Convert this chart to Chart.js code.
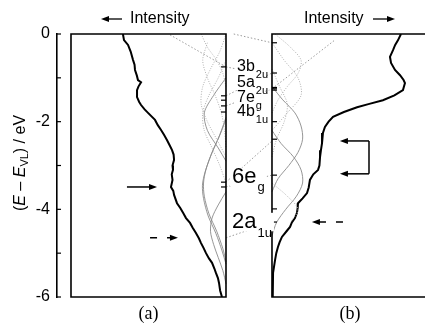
<!DOCTYPE html>
<html>
<head>
<meta charset="utf-8">
<script src="https://cdn.jsdelivr.net/npm/chart.js@4.4.1/dist/chart.umd.min.js"></script>
<style>
  html, body { margin: 0; padding: 0; background: #fff; }
  #wrap { width: 425px; height: 327px; }
</style>
</head>
<body>
<div id="wrap"><canvas id="chart"></canvas></div>
<script>
// spectrum (a): energy (eV) and intensity (grows to the left)
var energyA = [0, -0.14, -0.25, -0.4, -0.59, -0.7, -0.82, -0.95, -1.05, -1.1, -1.2, -1.28, -1.44, -1.55, -1.62, -1.72, -1.8, -1.96, -2.08, -2.19, -2.3, -2.42, -2.55, -2.65, -2.75, -2.87, -3.0, -3.1, -3.2, -3.33, -3.49, -3.58, -3.67, -3.86, -3.97, -4.08, -4.2, -4.31, -4.42, -4.54, -4.66, -4.77, -4.88, -5.0, -5.12, -5.22, -5.35, -5.45, -5.57, -5.68, -5.85, -6.0];
var intensityA = [0.665, 0.658, 0.632, 0.615, 0.6, 0.59, 0.587, 0.575, 0.568, 0.548, 0.565, 0.574, 0.574, 0.56, 0.548, 0.525, 0.503, 0.458, 0.44, 0.419, 0.4, 0.381, 0.362, 0.348, 0.338, 0.335, 0.345, 0.342, 0.35, 0.345, 0.355, 0.34, 0.335, 0.316, 0.295, 0.277, 0.258, 0.232, 0.215, 0.194, 0.175, 0.161, 0.145, 0.129, 0.11, 0.09, 0.075, 0.065, 0.052, 0.045, 0.038, 0.026];

// spectrum (b): energy (eV) and intensity (grows to the right)
var energyB = [0, -0.14, -0.25, -0.37, -0.52, -0.66, -0.82, -0.94, -1.05, -1.12, -1.28, -1.4, -1.51, -1.6, -1.67, -1.78, -1.89, -2.0, -2.12, -2.26, -2.49, -2.65, -2.81, -3.0, -3.1, -3.2, -3.33, -3.5, -3.63, -3.75, -3.86, -3.97, -4.08, -4.2, -4.3, -4.4, -4.5, -4.63, -4.75, -4.86, -5.0, -5.16, -5.45, -6.0];
var intensityB = [0.843, 0.824, 0.805, 0.791, 0.771, 0.778, 0.804, 0.837, 0.86, 0.869, 0.856, 0.8, 0.725, 0.63, 0.556, 0.47, 0.399, 0.37, 0.346, 0.333, 0.327, 0.32, 0.314, 0.31, 0.301, 0.27, 0.248, 0.24, 0.229, 0.2, 0.17, 0.168, 0.163, 0.15, 0.13, 0.118, 0.095, 0.065, 0.05, 0.039, 0.028, 0.02, 0.007, 0.005];

// orbital contributions, thin grey lines: [energies, intensities]
var solidLobesA = [
  [[-1.9, -2.3, -2.7, -3.1, -3.4, -3.7, -4.1, -4.5, -4.9, -5.2], [0, 0.04, 0.09, 0.13, 0.145, 0.14, 0.11, 0.06, 0.02, 0]],
  [[-1.95, -2.35, -2.75, -3.15, -3.45, -3.75, -4.15, -4.55, -4.95, -5.25], [0, 0.045, 0.095, 0.135, 0.152, 0.145, 0.115, 0.065, 0.025, 0]],
  [[-3.6, -3.9, -4.2, -4.5, -4.8, -5.1, -5.4, -5.7], [0, 0.05, 0.09, 0.1, 0.08, 0.05, 0.02, 0]],
  [[-1.0, -1.4, -1.8, -2.2, -2.6, -2.9], [0, 0.08, 0.14, 0.12, 0.05, 0]]
];
var dottedLobesA = [
  [[0, -0.3, -0.6, -0.9, -1.2], [0.16, 0.12, 0.06, 0.02, 0]],
  [[0, -0.4, -0.8, -1.2, -1.6, -2.0, -2.4, -2.8], [0, 0.04, 0.1, 0.15, 0.16, 0.12, 0.06, 0]],
  [[-0.6, -1.0, -1.4, -1.8, -2.2, -2.6, -3.0, -3.4], [0, 0.05, 0.11, 0.15, 0.14, 0.09, 0.04, 0]],
  [[-0.2, -0.6, -1.0, -1.4, -1.8, -2.2, -2.6], [0.12, 0.15, 0.12, 0.07, 0.03, 0.01, 0]]
];
var solidLobesB = [
  [[-1.2, -1.5, -1.8, -2.1, -2.4, -2.7, -3.0, -3.3, -3.6], [0, 0.07, 0.15, 0.19, 0.2, 0.17, 0.11, 0.04, 0]],
  [[-2.2, -2.5, -2.8, -3.1, -3.4, -3.7, -4.0, -4.3, -4.6], [0, 0.06, 0.14, 0.19, 0.2, 0.16, 0.09, 0.03, 0]]
];
var dottedLobesB = [
  [[0, -0.3, -0.6, -0.9, -1.2, -1.5, -1.8], [0.02, 0.12, 0.19, 0.17, 0.1, 0.04, 0]],
  [[-0.2, -0.6, -1.0, -1.4, -1.8, -2.2], [0, 0.08, 0.17, 0.19, 0.1, 0]],
  [[-0.8, -1.2, -1.6, -2.0, -2.4, -2.8], [0, 0.05, 0.1, 0.08, 0.03, 0]],
  [[-3.4, -3.7, -4.0, -4.3], [0, 0.1, 0.17, 0.12]]
];

// orbital levels marked on the inner frame edges
var levelsA = [-0.75, -1.41, -1.51, -1.64, -1.78, -3.38, -3.49];
var levelsB = [-0.2, -0.89, -1.22, -1.25, -1.28, -2.0, -2.4, -3.22, -3.99, -4.29];
var linkFrom = [-1.41, -1.64, -3.38, -3.49, -4.65];
var linkTo = [-0.89, -1.25, -2.44, -3.22, -4.29];

var orbitals = ['3b', '5a', '7e', '4b', '6e', '2a'];
var orbitalSubs = ['2u', '2u', 'g', '1u', 'g', '1u'];
var orbitalE = [-0.75, -1.12, -1.46, -1.78, -3.26, -4.29];

var yTicks = [0, -2, -4, -6];

function pts(E, I) {
  return E.map(function (e, i) { return { x: I[i], y: e }; });
}

var FONT = '"Liberation Sans", Arial, sans-serif';

function lineDs(data, axis, color, width, dash) {
  return {
    data: data, xAxisID: axis, yAxisID: "y",
    borderColor: color, borderWidth: width, borderDash: dash || [],
    pointRadius: 0, tension: 0.3, fill: false
  };
}

var datasets = [];
dottedLobesA.forEach(function (l) { datasets.push(lineDs(pts(l[0], l[1]), "xa", "#b0b0b0", 1, [1, 1.5])); });
dottedLobesB.forEach(function (l) { datasets.push(lineDs(pts(l[0], l[1]), "xb", "#b0b0b0", 1, [1, 1.5])); });
solidLobesA.forEach(function (l) { datasets.push(lineDs(pts(l[0], l[1]), "xa", "#8a8a8a", 0.9)); });
solidLobesB.forEach(function (l) { datasets.push(lineDs(pts(l[0], l[1]), "xb", "#8a8a8a", 0.9)); });
var specA = lineDs(pts(energyA, intensityA), "xa", "#000", 2); specA.tension = 0;
var specB = lineDs(pts(energyB, intensityB), "xb", "#000", 2); specB.tension = 0;
datasets.push(specA, specB);

function head(ctx, x, y, dir) {
  ctx.beginPath();
  ctx.moveTo(x, y);
  ctx.lineTo(x - dir * 8, y - 3);
  ctx.lineTo(x - dir * 8, y + 3);
  ctx.closePath();
  ctx.fill();
}

function arrow(ctx, x1, x2, y, dashed) {
  var dir = x2 > x1 ? 1 : -1;
  ctx.save();
  ctx.strokeStyle = "#000"; ctx.fillStyle = "#000"; ctx.lineWidth = 1.5;
  if (dashed) ctx.setLineDash([7, 10]);
  ctx.beginPath(); ctx.moveTo(x1, y); ctx.lineTo(x2 - dir * 6, y); ctx.stroke();
  ctx.setLineDash([]);
  head(ctx, x2, y, dir);
  ctx.restore();
}

var decor = {
  id: "decor",
  beforeDatasetsDraw: function (chart) {
    var ctx = chart.ctx, y = chart.scales.y, xa = chart.scales.xa, xb = chart.scales.xb;
    var aR = xa.getPixelForValue(0), bL = xb.getPixelForValue(0);
    ctx.save();
    ctx.strokeStyle = "#9a9a9a"; ctx.lineWidth = 1; ctx.setLineDash([1.5, 2]);
    function seg(x1, e1, x2, e2) {
      ctx.beginPath(); ctx.moveTo(x1, y.getPixelForValue(e1)); ctx.lineTo(x2, y.getPixelForValue(e2)); ctx.stroke();
    }
    linkFrom.forEach(function (e, i) { seg(aR, e, bL, linkTo[i]); });
    seg(xa.getPixelForValue(0.361), -0.02, aR, -0.75);
    seg(aR, -0.75, xb.getPixelForValue(-0.2), -0.82);
    seg(xb.getPixelForValue(-0.25), 0, bL, -0.2);
    seg(bL, -1.25, xb.getPixelForValue(0.41), -0.14);
    ctx.restore();
  },
  afterDatasetsDraw: function (chart) {
    var ctx = chart.ctx, y = chart.scales.y, xa = chart.scales.xa, xb = chart.scales.xb;
    var area = chart.chartArea;
    var aL = xa.getPixelForValue(1), aR = xa.getPixelForValue(0), bL = xb.getPixelForValue(0);
    var top = area.top, bot = area.bottom;
    ctx.save();
    // frames
    ctx.strokeStyle = "#000"; ctx.lineWidth = 1.6;
    ctx.beginPath();
    ctx.moveTo(aL, top); ctx.lineTo(aR, top); ctx.lineTo(aR, bot); ctx.lineTo(aL, bot); ctx.closePath();
    ctx.moveTo(area.right + 2, top); ctx.lineTo(bL, top); ctx.lineTo(bL, bot); ctx.lineTo(area.right + 2, bot);
    ctx.stroke();
    // inward ticks on the energy axis
    ctx.lineWidth = 1.2;
    y.ticks.forEach(function (t) {
      var py = y.getPixelForValue(t.value);
      ctx.beginPath(); ctx.moveTo(area.left, py); ctx.lineTo(area.left + 4, py); ctx.stroke();
    });
    // level ticks on the inner frame edges
    levelsA.forEach(function (e) {
      var py = y.getPixelForValue(e);
      ctx.beginPath(); ctx.moveTo(aR - 5, py); ctx.lineTo(aR, py); ctx.stroke();
    });
    levelsB.forEach(function (e) {
      var py = y.getPixelForValue(e);
      ctx.beginPath(); ctx.moveTo(bL, py); ctx.lineTo(bL + 5, py); ctx.stroke();
    });
    // orbital labels: white backing first, then text
    ctx.textBaseline = "middle"; ctx.textAlign = "left";
    var items = orbitals.map(function (t, i) {
      var big = i >= 4;
      var it = { t: t, s: orbitalSubs[i], fs: big ? 22 : 16, ss: big ? 13 : 11,
        x: aR + (big ? 6 : 11), py: y.getPixelForValue(orbitalE[i]), dy: big ? 11 : 8 };
      ctx.font = it.fs + "px " + FONT; it.w = ctx.measureText(t).width;
      ctx.font = it.ss + "px " + FONT; it.sw = ctx.measureText(it.s).width;
      return it;
    });
    ctx.fillStyle = "#fff";
    items.forEach(function (it) {
      ctx.fillRect(it.x - 2, it.py - it.fs * 0.42, it.w + it.sw + 5, it.fs * 0.84);
    });
    ctx.fillStyle = "#000";
    items.forEach(function (it) {
      ctx.font = it.fs + "px " + FONT;
      ctx.fillText(it.t, it.x, it.py);
      ctx.font = it.ss + "px " + FONT;
      ctx.fillText(it.s, it.x + it.w + 1, it.py + it.dy);
    });
    // arrows
    arrow(ctx, xa.getPixelForValue(0.639), xa.getPixelForValue(0.445), y.getPixelForValue(-3.49), false);
    arrow(ctx, xa.getPixelForValue(0.49), xa.getPixelForValue(0.31), y.getPixelForValue(-4.65), true);
    arrow(ctx, xb.getPixelForValue(0.464), xb.getPixelForValue(0.261), y.getPixelForValue(-4.29), true);
    var bx1 = xb.getPixelForValue(0.634), bx2 = xb.getPixelForValue(0.444);
    var by1 = y.getPixelForValue(-2.44), by2 = y.getPixelForValue(-3.19);
    ctx.strokeStyle = "#000"; ctx.lineWidth = 1.5;
    ctx.beginPath(); ctx.moveTo(bx1, by1); ctx.lineTo(bx1, by2); ctx.stroke();
    arrow(ctx, bx1, bx2, by1, false);
    arrow(ctx, bx1, bx2, by2, false);
    // header texts
    ctx.fillStyle = "#000";
    ctx.font = "16px " + FONT;
    ctx.textBaseline = "middle";
    ctx.fillText("Intensity", 130, 19);
    ctx.fillText("Intensity", 304, 19);
    ctx.lineWidth = 1.3;
    ctx.beginPath(); ctx.moveTo(108, 19); ctx.lineTo(122, 19); ctx.stroke();
    head(ctx, 101, 19, -1);
    ctx.beginPath(); ctx.moveTo(373, 19); ctx.lineTo(388, 19); ctx.stroke();
    head(ctx, 395, 19, 1);
    // panel letters
    ctx.font = "18px 'Liberation Serif', 'Times New Roman', serif";
    ctx.textAlign = "center";
    ctx.fillText("(a)", (aL + aR) / 2, 314);
    ctx.fillText("(b)", 350, 314);
    // energy axis title
    ctx.save();
    ctx.translate(21, 163);
    ctx.rotate(-Math.PI / 2);
    var parts = [["(", 16, "", 0], ["E", 16, "italic ", 0], [" \u2013 ", 16, "", 0], ["E", 16, "italic ", 0], ["VL", 11, "", 4], [") / eV", 16, "", 0]];
    var total = 0;
    parts.forEach(function (p) { ctx.font = p[2] + p[1] + "px " + FONT; p.push(ctx.measureText(p[0]).width); total += p[4]; });
    var cx = -total / 2;
    ctx.textAlign = "left";
    parts.forEach(function (p) {
      ctx.font = p[2] + p[1] + "px " + FONT;
      ctx.fillText(p[0], cx, p[3]);
      cx += p[4];
    });
    ctx.restore();
    ctx.restore();
  }
};

new Chart(document.getElementById("chart"), {
  type: "line",
  data: { datasets: datasets },
  options: {
    responsive: true,
    maintainAspectRatio: false,
    animation: false,
    layout: { padding: { top: 34, bottom: 30, left: 0, right: 0 } },
    plugins: { legend: { display: false }, tooltip: { enabled: false } },
    scales: {
      xa: { type: "linear", reverse: true, min: -1.2839, max: 1.0903, display: false },
      xb: { type: "linear", min: -1.405, max: 1.0, display: false },
      y: {
        type: "linear", min: -6, max: 0,
        afterFit: function (s) { s.width = 57; },
        ticks: {
          stepSize: 1, color: "#000", padding: 7,
          font: { size: 16, family: FONT },
          callback: function (v) { return yTicks.indexOf(v) >= 0 ? String(v) : ""; }
        },
        grid: { display: false, drawTicks: false },
        border: { display: true, color: "#000", width: 1.6 }
      }
    }
  },
  plugins: [decor]
});
</script>
</body>
</html>
